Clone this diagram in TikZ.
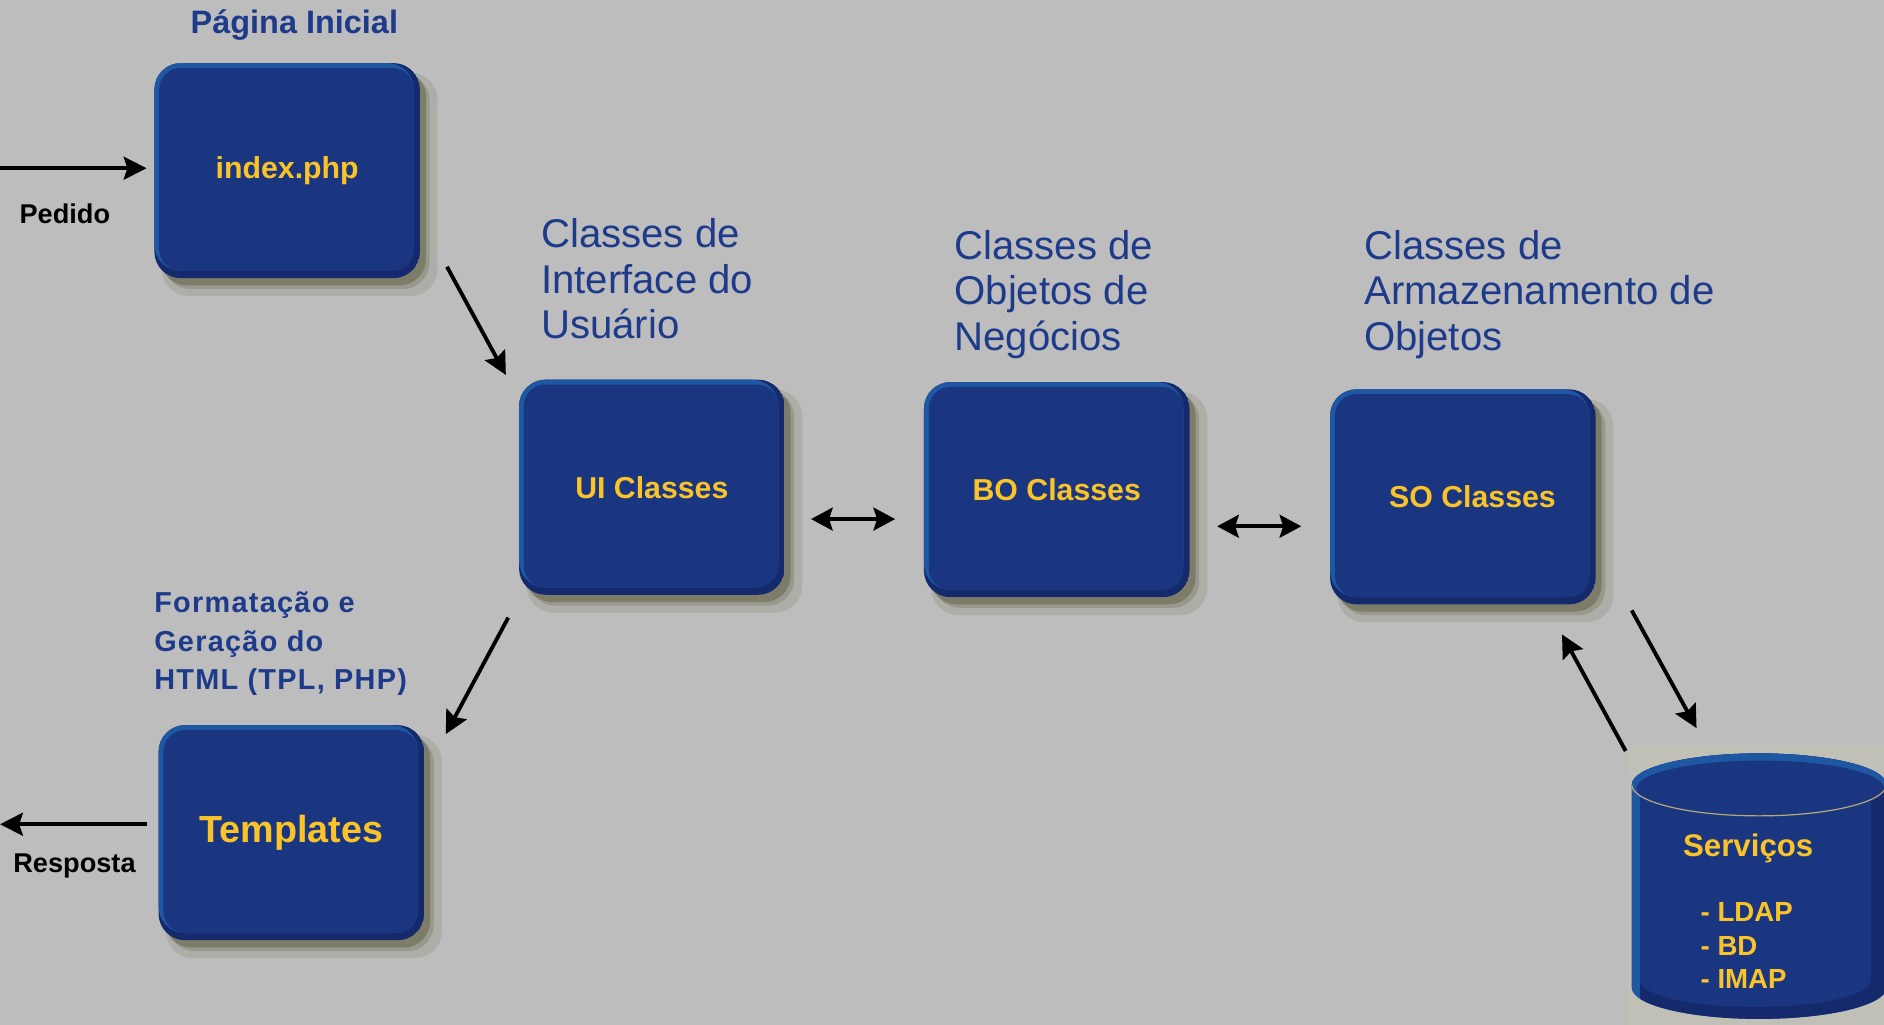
\documentclass[tikz,border=0pt]{standalone}
\usepackage{fontspec}
\setmainfont{Liberation Sans}
\newfontfamily\spacedfont[LetterSpace=4.5]{Liberation Sans}
\usetikzlibrary{arrows.meta,shadows}
\definecolor{bg}{RGB}{189,189,189}
\definecolor{boxblue}{RGB}{26,54,128}
\definecolor{edgelight}{RGB}{30,88,162}
\definecolor{edgedark}{RGB}{20,42,108}
\definecolor{titleblue}{RGB}{30,58,138}
\definecolor{gold}{RGB}{250,196,40}
\definecolor{shadowcol}{RGB}{90,90,60}
\definecolor{rim}{RGB}{185,168,120}
\definecolor{glow}{RGB}{192,192,182}
\tikzset{
  box/.style={rounded corners=11pt, minimum width=110.5pt, minimum height=89.5pt,
    inner sep=0pt, text=gold, font=\bfseries\fontsize{12.6}{15}\selectfont,
    drop shadow={shadow xshift=5pt, shadow yshift=-5.5pt, fill=shadowcol, opacity=.15, shadow scale=1.04},
    drop shadow={shadow xshift=4pt, shadow yshift=-4.5pt, fill=shadowcol, opacity=.25},
    drop shadow={shadow xshift=2.5pt, shadow yshift=-3pt, fill=shadowcol, opacity=.45},
    path picture={
      \fill[edgedark] (path picture bounding box.south west) rectangle (path picture bounding box.north east);
      \fill[edgelight, rounded corners=11pt] (path picture bounding box.north west) rectangle ([shift={(-2.5pt,3pt)}]path picture bounding box.south east);
      \fill[boxblue, rounded corners=9pt] ([shift={(2pt,-2pt)}]path picture bounding box.north west) rectangle ([shift={(-2.5pt,3pt)}]path picture bounding box.south east);
    }},
  head/.style={inner sep=0pt, align=left, text=titleblue, font=\fontsize{16.7}{19}\selectfont},
  fmt/.style={inner sep=0pt, align=left, text=titleblue, font=\spacedfont\bfseries\fontsize{12}{16}\selectfont},
  lab/.style={inner sep=0pt, text=black, font=\bfseries\fontsize{11.3}{13}\selectfont},
  arr/.style={line width=1.6pt, -{Stealth[length=9.5pt,width=9.5pt,inset=1.5pt]}},
  darr/.style={line width=1.6pt, {Stealth[length=9pt,width=9.5pt,inset=1.5pt]}-{Stealth[length=9pt,width=9.5pt,inset=1.5pt]}}
}
\begin{document}
\begin{tikzpicture}[x=0.5pt,y=-0.5pt]
\fill[bg] (0,0) rectangle (1568,853);
\useasboundingbox (0,0) rectangle (1568,853);

% glow behind the cylinder
\fill[glow] (1355,620) rectangle (1568,853);

% boxes
\node[box] (idx) at (239,142) {index.php};
\node[box] (ui) at (542.5,405.5) {UI Classes};
\node[box] (bo) at (879.5,407.5) {BO Classes};
\node[box] (so) at (1217.5,413.5) {\hspace{8pt}SO Classes};
\node[box, font=\bfseries\fontsize{15.7}{18}\selectfont] (tpl) at (242.5,693) {Templates};

% titles
\node[inner sep=0pt, text=titleblue, font=\bfseries\fontsize{13.5}{16}\selectfont] (tpag) at (245,21) {Página Inicial};
\node[head, anchor=west] (tui) at (450,232) {Classes de\\Interface do\\Usuário};
\node[head, anchor=west] (tbo) at (794,245) {Classes de\\Objetos de\\Negócios};
\node[head, anchor=west] (tso) at (1135,245) {Classes de\\Armazenamento de\\Objetos};
\node[fmt, anchor=west] (tfmt) at (128,536) {Formatação e\\Geração do\\HTML (TPL, PHP)};

% cylinder (Serviços)
\begin{scope}
  \clip (1358,653) -- (1358,822) arc[start angle=180,end angle=360,x radius=53pt,y radius=13pt]
        -- (1570,653) arc[start angle=0,end angle=180,x radius=53pt,y radius=13pt] -- cycle;
  \fill[edgelight] (1350,600) rectangle (1580,870);
  \fill[edgedark] (1365,600) rectangle (1580,870);
  \fill[boxblue] (1365,640) -- (1365,816) arc[start angle=180,end angle=360,x radius=48pt,y radius=11pt]
        -- (1557,640) -- cycle;
\end{scope}
\fill[edgelight] (1464,653) ellipse [x radius=53pt, y radius=13pt];
\fill[boxblue] (1465,656) ellipse [x radius=51.5pt, y radius=11.5pt];
\draw[rim, line width=0.5pt] (1358,653) arc[start angle=180,end angle=360,x radius=53pt,y radius=13pt];
\node[inner sep=0pt, text=gold, font=\bfseries\fontsize{13}{15}\selectfont] (srv) at (1455,706) {Serviços};
\node[inner sep=0pt, anchor=west, align=left, text=gold, font=\bfseries\fontsize{11.5}{14}\selectfont] (srvlist) at (1415,787) {- LDAP\\- BD\\- IMAP};

% labels
\node[lab] (ped) at (54,178) {Pedido};
\node[lab] (resp) at (62,721) {Resposta};

% arrow end points
\coordinate (pedA) at (0,140);
\coordinate (pedB) at (122,140);
\coordinate (a1s) at (372,222);
\coordinate (a1e) at (421,312);
\coordinate (a2s) at (423,514);
\coordinate (a2e) at (371,611);
\coordinate (d1s) at (675,432);
\coordinate (d1e) at (745,432);
\coordinate (d2s) at (1013,438);
\coordinate (d2e) at (1083,438);
\coordinate (a3s) at (1358,508);
\coordinate (a3e) at (1412,606);
\coordinate (a4s) at (1353,625);
\coordinate (a4e) at (1300,528);
\coordinate (rsA) at (122,686);
\coordinate (rsB) at (0,686);

\draw[arr] (pedA) -- (pedB);
\draw[arr] (a1s) -- (a1e);
\draw[arr] (a2s) -- (a2e);
\draw[darr] (d1s) -- (d1e);
\draw[darr] (d2s) -- (d2e);
\draw[arr] (a3s) -- (a3e);
\draw[arr] (a4s) -- (a4e);
\draw[arr] (rsA) -- (rsB);
\end{tikzpicture}
\end{document}
